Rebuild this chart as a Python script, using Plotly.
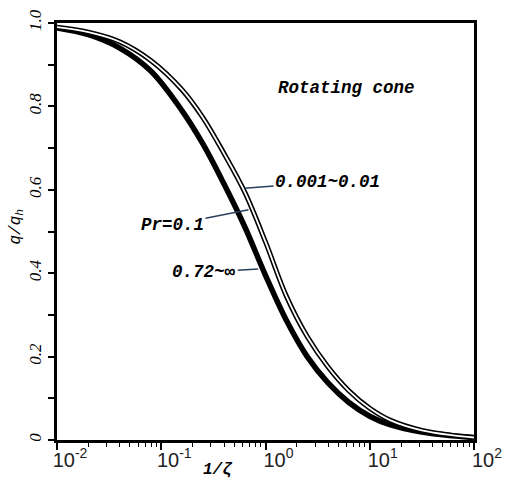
import plotly.graph_objects as go

# 1/zeta sample points (shared by both curve families)
inv_zeta = [0.01, 0.02, 0.04, 0.0794, 0.158, 0.251, 0.398, 0.631, 1.0,
            1.585, 2.512, 3.981, 6.31, 10.0, 15.85, 31.62, 63.1, 100.0]

# q/q_h for Pr = 0.72 ~ infinity (thick band)
q_high_pr = [0.988, 0.972, 0.940, 0.885, 0.790, 0.710, 0.615, 0.512, 0.395,
             0.287, 0.200, 0.137, 0.090, 0.057, 0.036, 0.019, 0.010, 0.006]

# q/q_h for low Prandtl numbers (double-line curve)
q_low_pr = [0.990, 0.978, 0.955, 0.910, 0.840, 0.773, 0.688, 0.595, 0.475,
            0.345, 0.248, 0.175, 0.118, 0.076, 0.047, 0.023, 0.011, 0.006]

x_tick_vals = [0.01, 0.1, 1, 10, 100]
x_tick_text = ["10<sup>-2</sup>", "10<sup>-1</sup>", "10<sup>0</sup>",
               "10<sup>1</sup>", "10<sup>2</sup>"]
y_tick_vals = [0, 0.2, 0.4, 0.6, 0.8, 1.0]
y_tick_text = ["0", "0.2", "0.4", "0.6", "0.8", "1.0"]

minor_x = [m * 10 ** e for e in (-2, -1, 0, 1) for m in range(2, 10)]

mono = "Liberation Mono, Courier New, monospace"

fig = go.Figure()

# thick band
fig.add_trace(go.Scatter(x=inv_zeta, y=q_high_pr, mode="lines",
                         line=dict(color="black", width=5.5, shape="spline"),
                         showlegend=False, hoverinfo="skip"))
# double line: black outline with a white core
fig.add_trace(go.Scatter(x=inv_zeta, y=q_low_pr, mode="lines",
                         line=dict(color="black", width=5, shape="spline"),
                         showlegend=False, hoverinfo="skip"))
fig.add_trace(go.Scatter(x=inv_zeta, y=q_low_pr, mode="lines",
                         line=dict(color="white", width=1.8, shape="spline"),
                         showlegend=False, hoverinfo="skip"))

ann_font = dict(family=mono, size=17.5, color="black", style="italic", weight="bold")

fig.add_annotation(x=0.775, y=0.844, xref="x", yref="y", text="Rotating cone",
                   showarrow=False, font=ann_font)
fig.add_annotation(x=-0.2, y=0.604, xref="x", yref="y", text="0.001~0.01",
                   showarrow=True, arrowhead=0, arrowwidth=1.5, ax=83, ay=-6,
                   font=ann_font)
fig.add_annotation(x=-0.163, y=0.552, xref="x", yref="y", text="Pr=0.1",
                   showarrow=True, arrowhead=0, arrowwidth=1.5, ax=-76, ay=15,
                   font=ann_font)
fig.add_annotation(x=-0.07, y=0.41, xref="x", yref="y", text="0.72~∞",
                   showarrow=True, arrowhead=0, arrowwidth=1.5, ax=-54, ay=3,
                   font=ann_font)

# axis titles
fig.add_annotation(x=0.386, y=0, xref="paper", yref="paper", yshift=-30,
                   text="1/ζ", showarrow=False, yanchor="middle",
                   font=dict(family=mono, size=16, color="black", style="italic",
                             weight="bold"))
fig.add_annotation(x=0, y=0.5, xref="paper", yref="paper", xshift=-41, yshift=5,
                   text="q/q<sub>h</sub>", showarrow=False, textangle=-90,
                   xanchor="center", yanchor="middle",
                   font=dict(family=mono, size=16, color="black", style="italic"))

fig.update_xaxes(
    type="log", range=[-2, 2], automargin=False,
    showline=True, linecolor="black", linewidth=2.5, mirror=True,
    showgrid=False, zeroline=False,
    ticks="outside", ticklen=7, tickwidth=1.5, tickcolor="black",
    tickvals=x_tick_vals, ticktext=x_tick_text, ticklabelshift=13,
    ticklabelstandoff=-7,
    tickfont=dict(family="Liberation Sans, Arial, sans-serif", size=20, color="#222"),
    minor=dict(tickvals=minor_x, ticks="outside", ticklen=4, tickwidth=1.3,
               tickcolor="black", showgrid=False),
)
fig.update_yaxes(
    range=[0, 1], automargin=False,
    showline=True, linecolor="black", linewidth=2.5, mirror=True,
    showgrid=False, zeroline=False,
    ticks="outside", ticklen=6, tickwidth=1.5, tickcolor="black",
    tickvals=y_tick_vals, ticktext=y_tick_text, tickangle=-90,
    tickfont=dict(family="Liberation Serif, Times New Roman, serif", size=17,
                  color="black", style="italic"),
    minor=dict(dtick=0.1, ticks="outside", ticklen=6, tickwidth=1.5,
               tickcolor="black", showgrid=False),
)

fig.update_layout(
    width=505, height=479,
    margin=dict(l=57, r=31, t=23, b=39),
    paper_bgcolor="white", plot_bgcolor="white",
)

fig.write_html("out.html")
